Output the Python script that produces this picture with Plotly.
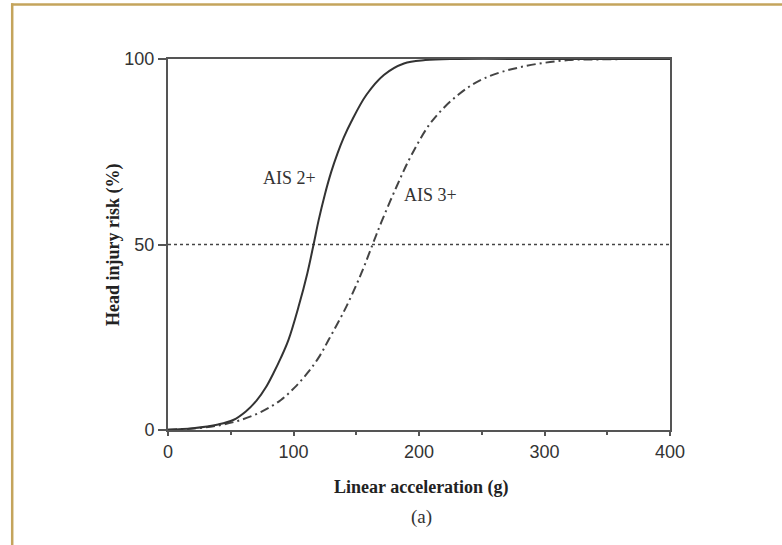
import plotly.graph_objects as go

# Data
ais2_g = [0, 20, 40, 52, 62, 71, 78, 84, 90, 96, 104, 111, 116, 120, 125, 130, 135, 140, 146, 158, 172, 188, 205, 230, 300, 400]
ais2_p = [0.1, 0.5, 1.5, 2.7, 5, 8.1, 11.5, 15.3, 19.5, 24.3, 33.2, 42.2, 50, 56.5, 63.5, 69.5, 74.5, 78.8, 83.1, 90.3, 95.7, 98.8, 99.7, 100, 100, 100]

ais3_g = [0, 20, 40, 58, 75, 90, 101, 111, 120, 128, 142, 154, 163, 170, 182, 194, 210, 231, 252, 282, 319, 345, 370]
ais3_p = [0.1, 0.4, 1.2, 2.7, 5, 8.1, 11.5, 15.3, 19.5, 24.3, 33.2, 42.2, 50, 56, 65.5, 74.1, 83.1, 90.3, 94.8, 97.9, 99.7, 99.9, 100]

x_ticks = [0, 100, 200, 300, 400]
x_minor = [50, 150, 250, 350]
y_ticks = [0, 50, 100]
ref_level = 50

L, R, T, B = 168, 112, 59, 115
W, H = 782, 545
pw, ph = W - L - R, H - T - B

def px_to_paper_x(px):
    return (px - L) / pw

def px_to_paper_y(py):
    return (H - B - py) / ph

fig = go.Figure()

fig.add_trace(go.Scatter(
    x=[0, 400], y=[ref_level, ref_level], mode="lines",
    line=dict(color="#444", width=1.6, dash="dot"), showlegend=False, hoverinfo="skip"))

fig.add_trace(go.Scatter(
    x=ais3_g, y=ais3_p, mode="lines", line=dict(color="#444", width=2, dash="9px,4px,2px,4px",
                                                shape="spline", smoothing=1.0),
    showlegend=False))

fig.add_trace(go.Scatter(
    x=ais2_g, y=ais2_p, mode="lines", line=dict(color="#333", width=2, shape="spline", smoothing=1.0),
    showlegend=False))

axis_common = dict(
    showgrid=False, zeroline=False, showline=True, linecolor="#555", linewidth=2,
    mirror=True, ticks="outside", tickwidth=1.5, tickcolor="#555",
    tickfont=dict(family="Liberation Sans, Arial", size=18, color="#333"),
)

fig.update_xaxes(range=[0, 400], tickvals=x_ticks, ticklen=4,
                 minor=dict(tickvals=x_minor, ticklen=3, tickcolor="#555", ticks="outside"),
                 **axis_common)
fig.update_yaxes(range=[0, 100], tickvals=y_ticks, ticklen=8, **axis_common)

serif = "Liberation Serif, Times New Roman"
annotations = [
    dict(text="<b>Linear acceleration (g)</b>", x=px_to_paper_x(421), y=px_to_paper_y(487),
         xref="paper", yref="paper", xanchor="center", yanchor="middle", showarrow=False,
         font=dict(family=serif, size=18, color="#222")),
    dict(text="(a)", x=px_to_paper_x(421), y=px_to_paper_y(517),
         xref="paper", yref="paper", xanchor="center", yanchor="middle", showarrow=False,
         font=dict(family=serif, size=19, color="#333")),
    dict(text="<b>Head injury risk (%)</b>", x=px_to_paper_x(113), y=px_to_paper_y(245),
         xref="paper", yref="paper", xanchor="center", yanchor="middle", showarrow=False,
         textangle=-90, font=dict(family=serif, size=18, color="#222")),
    dict(text="AIS 2+", x=96.8, y=67.9, xref="x", yref="y", showarrow=False,
         font=dict(family=serif, size=18, color="#333")),
    dict(text="AIS 3+", x=208.8, y=63.3, xref="x", yref="y", showarrow=False,
         font=dict(family=serif, size=18, color="#333")),
]

shapes = [
    dict(type="line", xref="paper", yref="paper",
         x0=px_to_paper_x(12.2), x1=px_to_paper_x(12.2), y0=px_to_paper_y(3.2), y1=px_to_paper_y(560),
         line=dict(color="#C4A45C", width=2.5)),
    dict(type="line", xref="paper", yref="paper",
         x0=px_to_paper_x(11), x1=px_to_paper_x(800), y0=px_to_paper_y(4.5), y1=px_to_paper_y(4.5),
         line=dict(color="#C4A45C", width=2.5)),
]

fig.update_layout(
    width=W, height=H, margin=dict(l=L, r=R, t=T, b=B),
    paper_bgcolor="white", plot_bgcolor="white",
    annotations=annotations, shapes=shapes, showlegend=False,
)

fig.write_html("out.html", config={"displayModeBar": False},
               post_script="document.body.style.margin='0';document.body.style.padding='0';")
